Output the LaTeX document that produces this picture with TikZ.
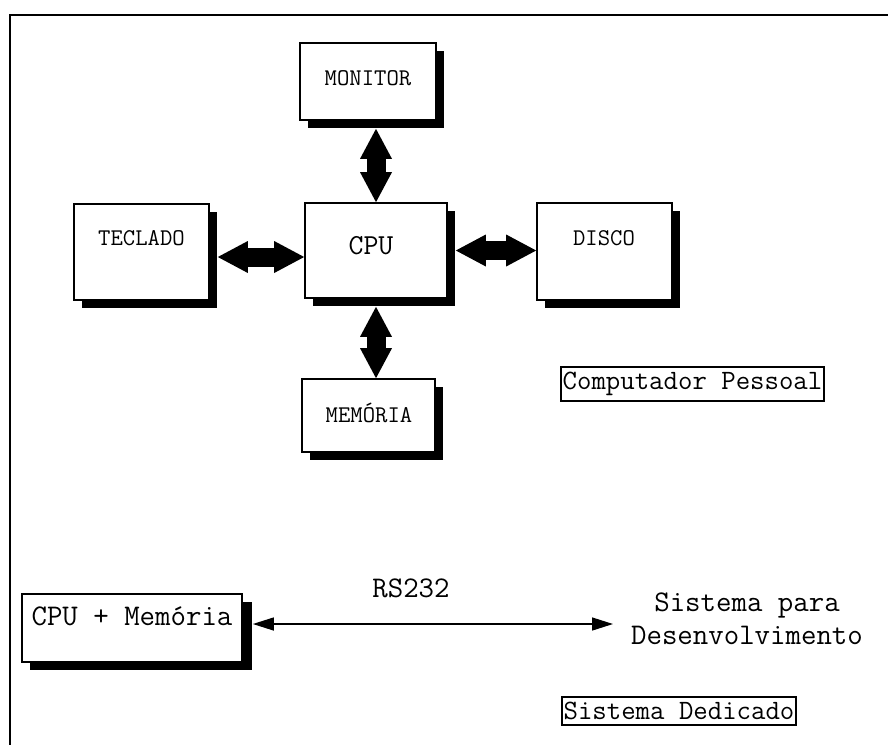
\documentclass[tikz,border=0pt]{standalone}
\usepackage{fontspec}
\usetikzlibrary{arrows.meta,shadows,calc}
\begin{document}
\begin{tikzpicture}[x=1pt,y=-1pt,
  box/.style={draw,line width=1.7pt,fill=white,inner sep=0pt,
    drop shadow={shadow xshift=8pt,shadow yshift=-8pt,opacity=1,fill=black}},
  tag/.style={draw,line width=1.5pt,inner xsep=1.5pt,inner ysep=5pt,
    font=\ttfamily\fontsize{28}{32}\selectfont},
  small/.style={font=\ttfamily\fontsize{24}{28}\selectfont},
  big/.style={font=\ttfamily\fontsize{30}{33}\selectfont},
  fat/.style={line width=19pt,
    {Triangle[width=32pt,length=30pt,line width=0pt]}-{Triangle[width=32pt,length=30pt,line width=0pt]}},
  thin/.style={line width=1.4pt,
    {Triangle[width=13pt,length=21pt]}-{Triangle[width=13pt,length=21pt]}}]
\useasboundingbox (0,0) rectangle (888,745);

% outer frame (top and left edges)
\draw[line width=1.6pt] (888,15) -- (10,15) -- (10,745);

% personal computer
\node[box,minimum width=136,minimum height=77] (mon) at (368,81.5) {};
\node[box,minimum width=135,minimum height=96] (tec) at (141.5,252) {};
\node[box,minimum width=142,minimum height=95] (cpu) at (376,250.5) {};
\node[box,minimum width=135,minimum height=97] (dis) at (604.5,251.5) {};
\node[box,minimum width=133,minimum height=73] (mem) at (368.5,415.5) {};

\node[small] (montxt) at (368,78) {MONITOR};
\node[small] (tectxt) at (141.5,238) {TECLADO};
\node[font=\ttfamily\fontsize{29}{33}\selectfont] (cputxt) at (371,246) {CPU};
\node[small] (distxt) at (604,238) {DISCO};
\node[small] (memtxt) at (369,413) {MEMÓRIA};

\draw[fat] ($(cpu.north |- mon.south)+(0,8)$) -- (cpu.north);
\draw[fat] ($(tec.east)+(8,5)$) -- ($(cpu.west)+(0,6.5)$);
\draw[fat] ($(cpu.east)+(8,0)$) -- (dis.west |- cpu.east);
\draw[fat] ($(cpu.south)+(0,8)$) -- (cpu.south |- mem.north);

\node[tag] (pc) at (692.5,384) {Computador Pessoal};

% dedicated system
\node[box,drop shadow={shadow xshift=10pt,shadow yshift=-8pt,opacity=1,fill=black},
  minimum width=220,minimum height=68] (cpm) at (132,628) {};
\node[big] (cpmtxt) at (132,616) {CPU + Memória};
\node[big] (rs) at (411,588) {RS232};
\node[big,align=center] (dev) at (747,619) {Sistema para\\Desenvolvimento};
\coordinate (rsend) at (613,624);
\draw[thin] ($(cpm.east |- rsend)+(10,0)$) -- (rsend);

\node[tag] (sd) at (679,711) {Sistema Dedicado};
\end{tikzpicture}
\end{document}
